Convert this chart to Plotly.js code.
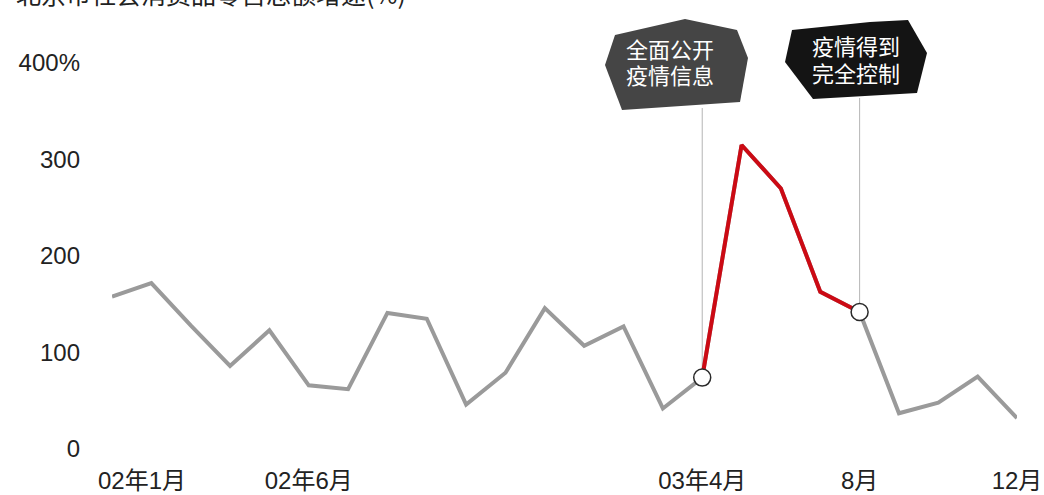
<!DOCTYPE html>
<html>
<head>
<meta charset="utf-8">
<script src="https://cdn.plot.ly/plotly-3.0.1.min.js"></script>
<style>html,body{margin:0;padding:0;background:#fff;}#chart{width:1044px;height:495px;}</style>
</head>
<body>
<div id="chart"></div>
<script>
// ---- data ----
const months = ['02年1月','02年2月','02年3月','02年4月','02年5月','02年6月','02年7月','02年8月','02年9月','02年10月','02年11月','02年12月',
                '03年1月','03年2月','03年3月','03年4月','03年5月','03年6月','03年7月','03年8月','03年9月','03年10月','03年11月','03年12月'];
const growth = [158, 172, 128, 86, 123, 66, 62, 141, 135, 46, 79, 146,
                107, 127, 42, 74, 315, 270, 163, 142, 37, 48, 75, 32];
const tickIdx = [0, 5, 15, 19, 23];
const tickText = ['\u00a0\u00a0\u00a0\u00a0\u00a0\u00a0\u00a0\u00a0\u00a002年1月', '02年6月', '03年4月', '8月', '12月'];
const yTicks = [0, 100, 200, 300, 400];
const yTickText = ['0', '100', '200', '300', '400%'];
const eventIdx = [15, 19];
const eventLines = [['全面公开', '疫情信息'], ['疫情得到', '完全控制']];
const titleText = '北京市社会消费品零售总额增速(%)';

// ---- layout geometry ----
const W = 1044, H = 495;
const M = {l: 112, r: 27, t: 63, b: 46};
const PW = W - M.l - M.r, PH = H - M.t - M.b;
const px = x => (x - M.l) / PW;
const py = y => (H - M.b - y) / PH;
const poly = pts => 'M ' + pts.map(p => px(p[0]) + ',' + py(p[1])).join(' L ') + ' Z';

// callout shapes (decoration, pixel outline)
const calloutOutlines = [
  [[615,35],[685,19],[737,30],[748,58],[740,102],[622,110],[605,65]],
  [[792,30],[870,22],[908,20],[927,53],[917,93],[813,99],[785,62]]
];
const calloutFill = ['#454545', '#141414'];
const calloutTextX = [670, 856];
const calloutTextY = [[48, 74], [45, 72]];
const calloutBase = [108, 98];

const redX = [], redY = [];
for (let i = eventIdx[0]; i <= eventIdx[1]; i++) { redX.push(i); redY.push(growth[i]); }
const xs = growth.map((_, i) => i);

const traces = [
  {x: xs, y: growth, text: months, type: 'scatter', mode: 'lines',
   line: {color: '#9a9a9a', width: 4}, cliponaxis: false, hoverinfo: 'text+y'},
  {x: redX, y: redY, type: 'scatter', mode: 'lines',
   line: {color: '#cc0a14', width: 4}, cliponaxis: false},
  {x: eventIdx, y: eventIdx.map(i => growth[i]), type: 'scatter', mode: 'markers',
   marker: {size: 17, color: '#ffffff', line: {color: '#2a2a2a', width: 1.5}}, cliponaxis: false}
];

const shapes = [];
const annotations = [];
eventIdx.forEach((idx, k) => {
  shapes.push({type: 'line', xref: 'x', yref: 'paper', x0: idx, x1: idx,
    y0: py(calloutBase[k]), y1: growth[idx] / 400, line: {color: '#b5b5b5', width: 1}, layer: 'below'});
  shapes.push({type: 'path', xref: 'paper', yref: 'paper', path: poly(calloutOutlines[k]),
    fillcolor: calloutFill[k], line: {width: 0}, layer: 'above'});
  eventLines[k].forEach((t, j) => {
    annotations.push({xref: 'paper', yref: 'paper', x: px(calloutTextX[k]), y: py(calloutTextY[k][j]),
      xanchor: 'center', yanchor: 'middle', showarrow: false, text: t,
      font: {family: 'Noto Sans CJK SC, sans-serif', size: 22, color: '#ffffff'}});
  });
});
annotations.push({xref: 'paper', yref: 'paper', x: px(14), y: py(13), xanchor: 'left', yanchor: 'bottom',
  showarrow: false, text: titleText, font: {family: 'Noto Sans CJK SC, sans-serif', size: 25, color: '#222'}});

const layout = {
  width: W, height: H,
  margin: M,
  paper_bgcolor: '#ffffff', plot_bgcolor: '#ffffff',
  showlegend: false,
  font: {family: 'Liberation Sans, Noto Sans CJK SC, sans-serif', size: 24, color: '#222'},
  xaxis: {range: [0, 23], tickmode: 'array', tickvals: tickIdx, ticktext: tickText,
    showgrid: false, zeroline: false, showline: false, ticks: '', ticklabelstandoff: 15,
    tickfont: {family: 'Liberation Sans, Noto Sans CJK SC, sans-serif', size: 24, color: '#222'}},
  yaxis: {range: [0, 400], tickmode: 'array', tickvals: yTicks, ticktext: yTickText,
    showgrid: false, zeroline: false, showline: false, ticks: '', ticklabelstandoff: 31,
    tickfont: {family: 'Liberation Sans, sans-serif', size: 24, color: '#222'}},
  shapes: shapes,
  annotations: annotations
};

Plotly.newPlot('chart', traces, layout, {displayModeBar: false, staticPlot: true});
</script>
</body>
</html>
